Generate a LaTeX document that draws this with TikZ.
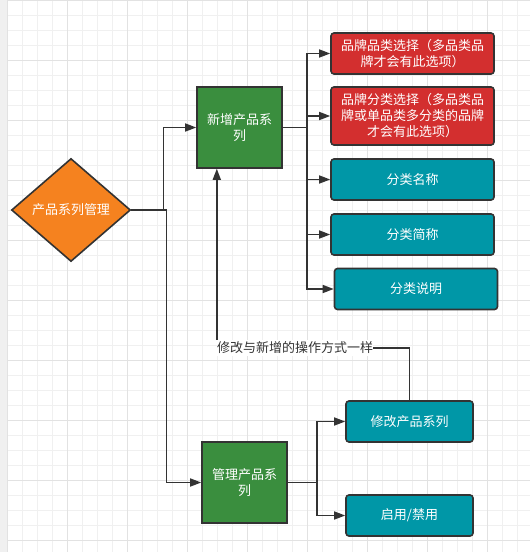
\documentclass[tikz,border=0pt]{standalone}
\usepackage{fontspec}
\newfontfamily\cjk{Noto Sans CJK SC}
\usetikzlibrary{shapes.geometric,arrows.meta}
\definecolor{gridminor}{HTML}{F0F0F0}
\definecolor{gridmajor}{HTML}{E2E2E2}
\definecolor{stripgray}{HTML}{F0F0F0}
\definecolor{edgegray}{HTML}{333333}
\definecolor{orangefill}{HTML}{F5821F}
\definecolor{greenfill}{HTML}{3A8E3E}
\definecolor{redfill}{HTML}{D32F2F}
\definecolor{tealfill}{HTML}{0097A7}

\begin{document}
\begin{tikzpicture}[x=1pt,y=-1pt,
    box/.style={draw=edgegray,line width=1.6pt,text=white,align=center,inner sep=0pt,
        font=\cjk\fontsize{13}{16}\selectfont},
    dec/.style={box,diamond,fill=orangefill,minimum width=119pt,minimum height=103pt},
    grn/.style={box,fill=greenfill,minimum width=85pt,minimum height=81pt},
    redbox/.style={box,fill=redfill,rounded corners=3pt,minimum width=163pt},
    tealbox/.style={box,fill=tealfill,rounded corners=3pt,minimum width=163pt,minimum height=41pt},
    note/.style={fill=white,text=edgegray,inner xsep=0pt,inner ysep=2pt,
        font=\cjk\fontsize{13}{16}\selectfont},
    conn/.style={draw=edgegray,line width=1.6pt,-{Triangle[length=11pt,width=8pt]}},
    link/.style={draw=edgegray,line width=1.6pt}]
    \useasboundingbox (0,0) rectangle (530,552);
    \fill[white] (0,0) rectangle (530,552);
    \foreach \i in {0,...,35} {\draw[gridminor,line width=1pt] ({7.3+15*\i},0) -- ++(0,552);}
    \foreach \j in {0,...,36} {\draw[gridminor,line width=1pt] (7.3,15*\j) -- (530,15*\j);}
    \foreach \i in {0,...,8} {\draw[gridmajor,line width=1pt] ({7.3+60*\i},0) -- ++(0,552);}
    \foreach \j in {0,...,9} {\draw[gridmajor,line width=1pt] (7.3,60*\j) -- (530,60*\j);}
    \fill[stripgray] (0,0) rectangle (7.3,552);

    \node[dec] (mgmt) at (71,210) {产品系列管理};
    \node[grn] (addser) at (239.5,127.5) {新增产品系\\列};
    \node[grn] (mgser) at (244.5,482.5) {管理产品系\\列};
    \node[redbox,minimum height=41pt] (brandcat) at (412.5,53.5) {品牌品类选择（多品类品\\牌才会有此选项）};
    \node[redbox,minimum height=58pt] (brandcls) at (412.5,116) {品牌分类选择（多品类品\\牌或单品类多分类的品牌\\才会有此选项）};
    \node[tealbox] (clsname) at (412.5,179.5) {分类名称};
    \node[tealbox] (clsshort) at (412.5,234.5) {分类简称};
    \node[tealbox] (clsdesc) at (416,289) {分类说明};
    \node[tealbox,minimum width=127pt] (modify) at (409.5,421.5) {修改产品系列};
    \node[tealbox,minimum width=127pt] (enable) at (409.5,515.5) {启用/禁用};
    \node[note] (same) at (295,348) {修改与新增的操作方式一样};

    \draw[conn] (mgmt.east) -- ++(32,0) |- (addser.west);
    \draw[conn] (mgmt.east) -- ++(35,0) |- (mgser.west);
    \foreach \t in {brandcat,brandcls,clsname,clsshort,clsdesc}
        \draw[conn] (addser.east) -- ++(24,0) |- (\t.west);
    \foreach \t in {modify,enable}
        \draw[conn] (mgser.east) -- ++(29,0) |- (\t.west);
    \draw[link] (modify.north) |- (same.east);
    \draw[conn] (same.north west) -- (same.north west |- addser.south);
\end{tikzpicture}
\end{document}
